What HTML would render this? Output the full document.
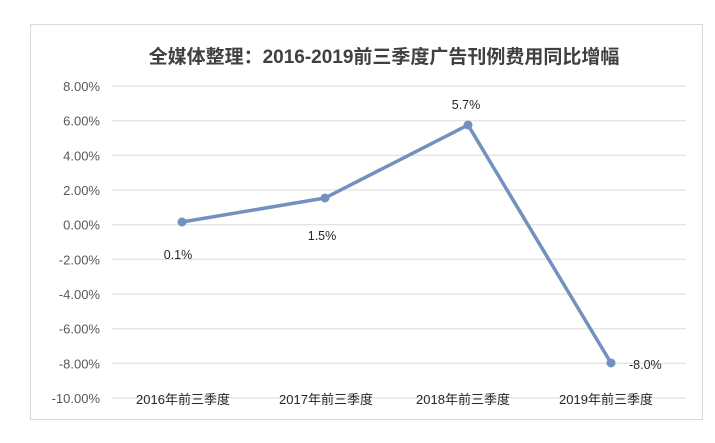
<!DOCTYPE html><html><head><meta charset="utf-8"><style>body{margin:0;background:#fff;}</style></head><body>
<svg width="715" height="438" xmlns="http://www.w3.org/2000/svg" font-family="Liberation Sans, Noto Sans CJK SC, sans-serif">
<rect x="0" y="0" width="715" height="438" fill="#fff"/>
<rect x="30.5" y="24.5" width="672" height="395" fill="#fff" stroke="#d9d9d9"/>
<text x="384" y="63" text-anchor="middle" font-size="19" font-weight="bold" fill="#404040">全媒体整理：2016-2019前三季度广告刊例费用同比增幅</text>
<g stroke="#dcdcdc" stroke-width="1">
<line x1="112" x2="686" y1="86" y2="86"/><line x1="112" x2="686" y1="120.7" y2="120.7"/>
<line x1="112" x2="686" y1="155.3" y2="155.3"/><line x1="112" x2="686" y1="190" y2="190"/>
<line x1="112" x2="686" y1="224.7" y2="224.7"/><line x1="112" x2="686" y1="259.3" y2="259.3"/>
<line x1="112" x2="686" y1="294" y2="294"/><line x1="112" x2="686" y1="328.7" y2="328.7"/>
<line x1="112" x2="686" y1="363.3" y2="363.3"/><line x1="112" x2="686" y1="398" y2="398"/>
</g>
<g font-size="13" fill="#595959" text-anchor="end">
<text x="100" y="91">8.00%</text><text x="100" y="125.7">6.00%</text><text x="100" y="160.3">4.00%</text>
<text x="100" y="195">2.00%</text><text x="100" y="229.7">0.00%</text><text x="100" y="264.3">-2.00%</text>
<text x="100" y="299">-4.00%</text><text x="100" y="333.7">-6.00%</text><text x="100" y="368.3">-8.00%</text>
<text x="100" y="403">-10.00%</text>
</g>
<polyline points="182,222 325,198 468,125 611,363" fill="none" stroke="#7391bf" stroke-width="3.5" stroke-linejoin="round"/>
<g fill="#7391bf"><circle cx="182" cy="222" r="4.5"/><circle cx="325" cy="198" r="4.5"/><circle cx="468" cy="125" r="4.5"/><circle cx="611" cy="363" r="4.5"/></g>
<g font-size="12.5" fill="#262626">
<text x="178" y="259" text-anchor="middle">0.1%</text>
<text x="322" y="240" text-anchor="middle">1.5%</text>
<text x="466" y="109" text-anchor="middle">5.7%</text>
<text x="629" y="369">-8.0%</text>
</g>
<g font-size="13" fill="#262626" text-anchor="middle">
<text x="183" y="404">2016年前三季度</text><text x="326" y="404">2017年前三季度</text>
<text x="463" y="404">2018年前三季度</text><text x="606" y="404">2019年前三季度</text>
</g>
</svg></body></html>
